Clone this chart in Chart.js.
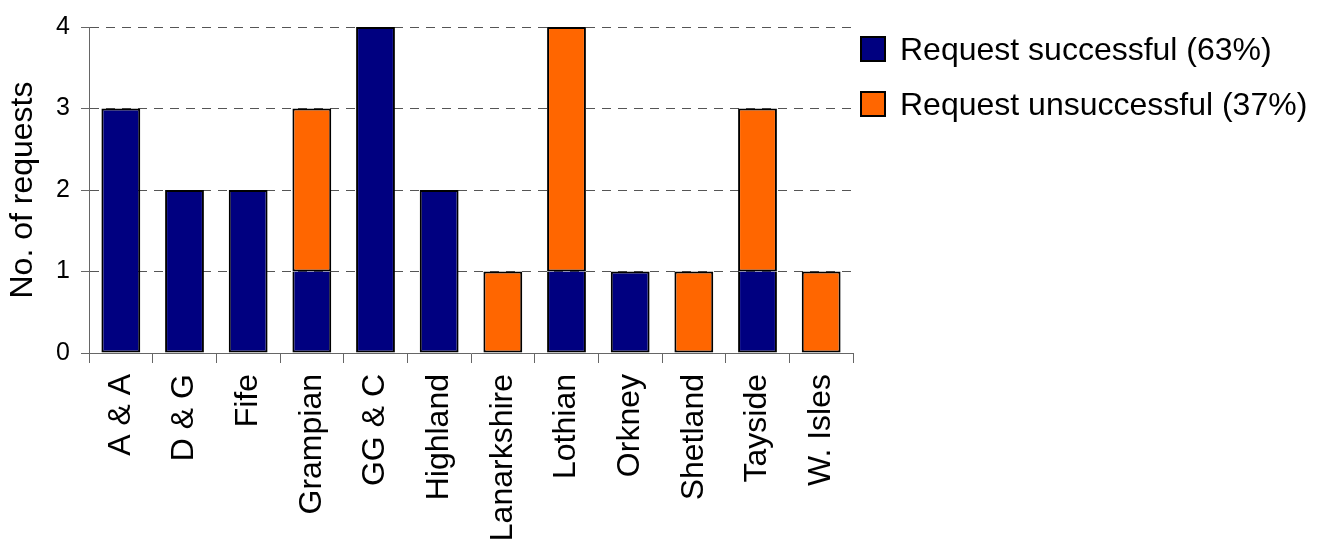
<!DOCTYPE html>
<html>
<head>
<meta charset="utf-8">
<script src="https://cdn.jsdelivr.net/npm/chart.js@4"></script>
<style>
  html, body { margin: 0; padding: 0; background: #fff; }
  #wrap { position: relative; width: 1321px; height: 540px; }
  #legend { position: absolute; left: 860px; top: 36px; font-family: Arial, "Liberation Sans", sans-serif; font-size: 32px; color: #000; }
  #legend .row { display: flex; align-items: center; height: 26px; margin-bottom: 29px; white-space: nowrap; }
  #legend .box { width: 22px; height: 22px; border: 2px solid #000; margin-right: 14px; }
</style>
</head>
<body>
<div id="wrap">
  <canvas id="chart" width="1321" height="540"></canvas>
  <div id="legend"></div>
</div>
<script>
// Requests by region
const regions = ['A & A', 'D & G', 'Fife', 'Grampian', 'GG & C', 'Highland',
    'Lanarkshire', 'Lothian', 'Orkney', 'Shetland', 'Tayside', 'W. Isles'];
const successful = [3, 2, 2, 1, 4, 2, 0, 1, 1, 0, 1, 0];
const unsuccessful = [0, 0, 0, 2, 0, 0, 1, 3, 0, 1, 2, 1];
const seriesLabels = ['Request successful (63%)', 'Request unsuccessful (37%)'];
const seriesColors = ['#000080', '#ff6600'];
const yTicks = [0, 1, 2, 3, 4];

const FONT = 'Arial, "Liberation Sans", sans-serif';

// empty segments would leave a flat border line on the axis
const orNull = arr => arr.map(v => (v === 0 ? null : v));

// lower segment drops its top edge when an orange one sits on it
const lowerSkip = c => (unsuccessful[c.dataIndex] > 0 ? 'top' : false);

const ctx = document.getElementById('chart').getContext('2d');
new Chart(ctx, {
    type: 'bar',
    data: {
        labels: regions,
        datasets: [{
            label: seriesLabels[0],
            data: orNull(successful),
            backgroundColor: seriesColors[0],
            borderColor: '#000',
            borderWidth: 2,
            borderSkipped: lowerSkip
        }, {
            label: seriesLabels[1],
            data: orNull(unsuccessful),
            backgroundColor: seriesColors[1],
            borderColor: '#000',
            borderWidth: 2,
            borderSkipped: false
        }]
    },
    options: {
        responsive: false,
        animation: false,
        layout: { padding: { top: 27, right: 468, left: 0, bottom: 0 } },
        datasets: { bar: { barPercentage: 0.61, categoryPercentage: 1 } },
        plugins: {
            tooltip: { enabled: false },
            legend: { display: false }
        },
        scales: {
            x: {
                stacked: true,
                afterFit: axis => { axis.height = 540 - 353; },
                grid: {
                    offset: true,
                    drawOnChartArea: false,
                    drawTicks: true,
                    tickLength: 10,
                    color: '#666'
                },
                border: { display: true, color: '#666', width: 1 },
                ticks: {
                    color: '#000',
                    minRotation: 90,
                    maxRotation: 90,
                    autoSkip: false,
                    padding: 11,
                    font: { family: FONT, size: 32 }
                }
            },
            y: {
                stacked: true,
                min: 0,
                max: 4,
                afterBuildTicks: axis => { axis.ticks = yTicks.map(v => ({ value: v })); },
                afterFit: axis => { axis.width = 89; },
                grid: {
                    color: '#555',
                    tickLength: 8,
                    tickColor: '#666',
                    tickBorderDash: [],
                    drawTicks: true
                },
                border: { display: true, color: '#666', width: 1, dash: [9, 7] },
                ticks: {
                    color: '#000',
                    padding: 11,
                    font: { family: FONT, size: 25 }
                },
                title: {
                    display: true,
                    text: 'No. of requests',
                    color: '#000',
                    padding: { top: 4, bottom: 0 },
                    font: { family: FONT, size: 32, lineHeight: 1.2 }
                }
            }
        }
    }
});

// legend rows
const legend = document.getElementById('legend');
seriesLabels.forEach((name, i) => {
    const row = document.createElement('div');
    row.className = 'row';
    row.innerHTML = `<span class="box" style="background:${seriesColors[i]}"></span><span>${name}</span>`;
    legend.appendChild(row);
});
</script>
</body>
</html>
